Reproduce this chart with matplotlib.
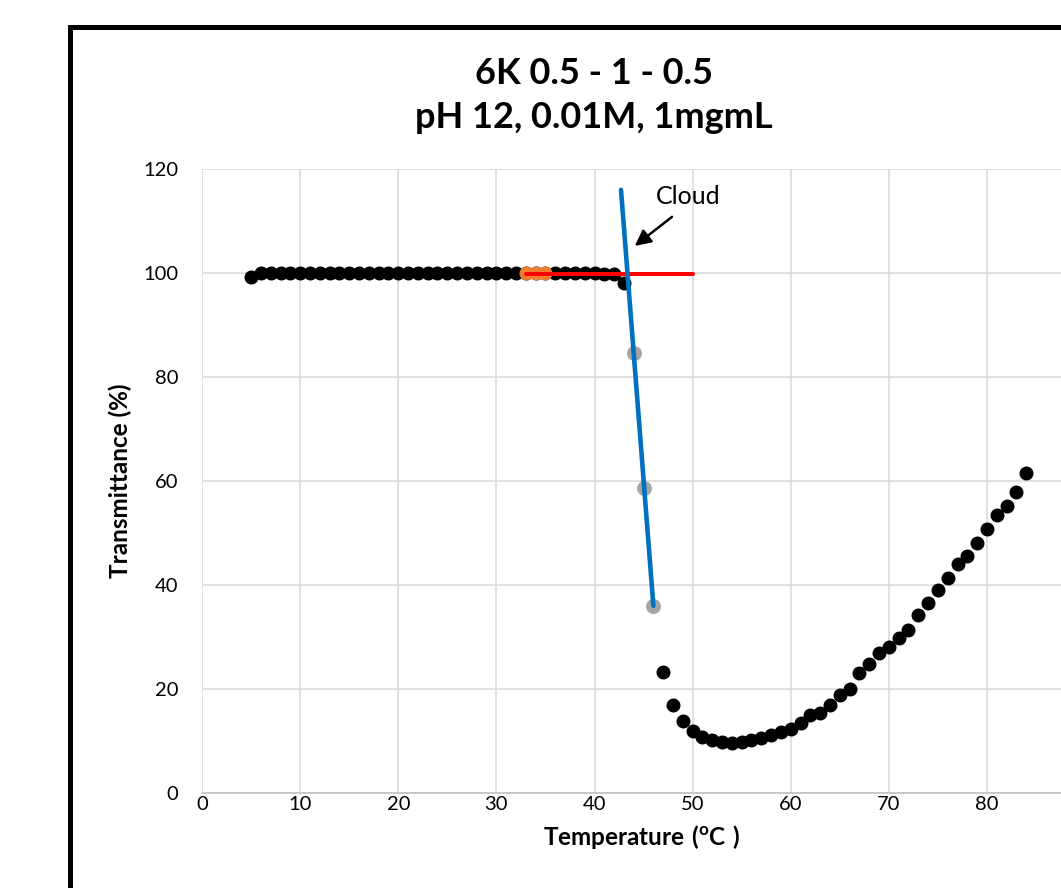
import matplotlib
matplotlib.use("Agg")
import matplotlib.pyplot as plt
from matplotlib.patches import Rectangle

plt.rcParams['font.family'] = ['Lato', 'DejaVu Sans']
plt.rcParams['mathtext.fontset'] = 'custom'
plt.rcParams['mathtext.rm'] = 'Lato'
plt.rcParams['mathtext.bf'] = 'Lato:bold'

# ---- data ----
temp_low = list(range(5, 44))
trans_low = [99.3, 100.0, 100.0, 100.0, 100.0, 100.0, 100.0, 100.0, 100.0, 100.0,
             100.0, 100.0, 100.0, 100.0, 100.0, 100.0, 100.0, 100.0, 100.0, 100.0,
             100.0, 100.0, 100.0, 100.0, 100.0, 100.0, 100.0, 100.0, 100.0, 100.0,
             100.0, 100.0, 100.0, 100.0, 100.0, 100.0, 99.9, 99.8, 98.0]
temp_high = list(range(47, 85))
trans_high = [23.3, 17.0, 13.9, 12.0, 10.8, 10.2, 9.8, 9.7, 9.9, 10.1,
              10.6, 11.2, 11.8, 12.4, 13.4, 15.0, 15.4, 16.9, 18.8, 20.0,
              23.0, 24.8, 26.9, 28.0, 29.9, 31.3, 34.3, 36.6, 39.1, 41.4,
              44.0, 45.6, 48.1, 50.8, 53.4, 55.2, 57.8, 61.6]
temp_orange = [33, 34, 35]
trans_orange = [100.0, 100.0, 100.0]
temp_gray = [44, 45, 46]
trans_gray = [84.6, 58.7, 36.0]
baseline_x = [33, 50]
baseline_y = [99.8, 99.8]
trend_x = [42.7, 46.0]
trend_y = [116.0, 36.0]

x_ticks = [0, 10, 20, 30, 40, 50, 60, 70, 80]
y_ticks = [0, 20, 40, 60, 80, 100, 120]

W, H = 1061, 888
fig = plt.figure(figsize=(W / 100, H / 100), dpi=100)

# outer chart border (extends past right/bottom of image)
fig.patches.append(Rectangle((70 / W, -0.1), 1.2, (H - 27) / H + 0.1,
                             transform=fig.transFigure, fill=False,
                             edgecolor='black', linewidth=3.6, zorder=0))

ax = fig.add_axes([202 / W, (H - 793) / H, 90 * 9.8125 / W, (793 - 169) / H])
ax.set_xlim(0, 90)
ax.set_ylim(0, 120)
ax.set_xticks(x_ticks)
ax.set_yticks(y_ticks)
ax.xaxis.set_minor_locator(matplotlib.ticker.FixedLocator([90]))
ax.grid(True, which='both', color='#D9D9D9', linewidth=1.1)
ax.set_axisbelow(True)
for s in ['top', 'right', 'left']:
    ax.spines[s].set_visible(False)
ax.spines['bottom'].set_color('#BFBFBF')
ax.spines['bottom'].set_linewidth(1.1)
ax.tick_params(which='both', length=0, labelsize=14.5, colors='black')
ax.tick_params(axis='x', pad=2)
ax.tick_params(axis='y', pad=17)

ms = 82
ax.scatter(temp_low, trans_low, s=ms, color='black', zorder=3)
ax.scatter(temp_high, trans_high, s=ms, color='black', zorder=3)
ax.scatter(temp_orange, trans_orange, s=ms, color='#ED7D31', zorder=4)
ax.scatter(temp_gray, trans_gray, s=95, color='#A5A5A5', zorder=4)
ax.plot(baseline_x, baseline_y, color='#FF0000', linewidth=2.9, zorder=5,
        solid_capstyle='round')
ax.plot(trend_x, trend_y, color='#0070C0', linewidth=3.3, zorder=6,
        solid_capstyle='round')

ax.annotate('', xy=(44.1, 105.2), xytext=(47.9, 110.8),
            arrowprops=dict(arrowstyle='-|>', color='black', lw=1.8,
                            mutation_scale=24, shrinkA=0, shrinkB=0), zorder=7)
ax.text(49.5, 114.8, 'Cloud', fontsize=18, ha='center', va='center')

fig.text(594 / W, 1 - 73 / H, '6K 0.5 - 1 - 0.5', fontsize=26, fontweight='bold',
         ha='center', va='center')
fig.text(594 / W, 1 - 118 / H, 'pH 12, 0.01M, 1mgmL', fontsize=26, fontweight='bold',
         ha='center', va='center')

fig.text(120 / W, 1 - 481 / H, 'Transmittance (%)', fontsize=17.5, fontweight='bold',
         rotation=90, ha='center', va='center')
fig.text(642 / W, 1 - 837 / H, r'$\mathbf{Temperature\ (^{o}C\ )}$', fontsize=17.5,
         ha='center', va='center')

fig.savefig('out.png', dpi=100)
